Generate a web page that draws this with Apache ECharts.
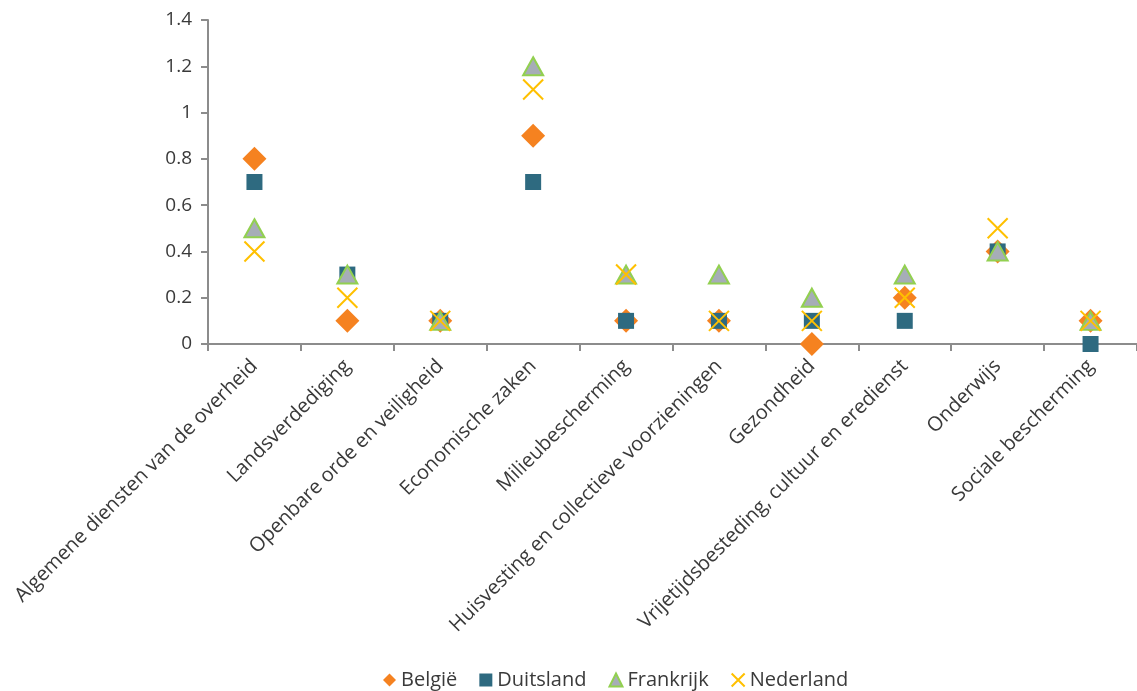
<!DOCTYPE html>
<html><head><meta charset="utf-8">
<script src="https://cdn.jsdelivr.net/npm/echarts@6/dist/echarts.min.js"></script>
<style>html,body{margin:0;padding:0;background:#fff}#c{width:1137px;height:691px}</style>
</head><body><div id="c"></div>
<script>
const categories = ['Algemene diensten van de overheid','Landsverdediging','Openbare orde en veiligheid','Economische zaken','Milieubescherming','Huisvesting en collectieve voorzieningen','Gezondheid','Vrijetijdsbesteding, cultuur en eredienst','Onderwijs','Sociale bescherming'];
const belgie     = [0.8, 0.1, 0.1, 0.9, 0.1, 0.1, 0.0, 0.2, 0.4, 0.1];
const duitsland  = [0.7, 0.3, 0.1, 0.7, 0.1, 0.1, 0.1, 0.1, 0.4, 0.0];
const frankrijk  = [0.5, 0.3, 0.1, 1.2, 0.3, 0.3, 0.2, 0.3, 0.4, 0.1];
const nederland  = [0.4, 0.2, 0.1, 1.1, 0.3, 0.1, 0.1, 0.2, 0.5, 0.1];
const yTicks = [0, 0.2, 0.4, 0.6, 0.8, 1, 1.2, 1.4];

const font = 'Open Sans';
const txt = '#3a3a3a';
const chart = echarts.init(document.getElementById('c'), null, {renderer:'canvas'});
chart.setOption({
  animation:false,
  textStyle:{fontFamily:font},
  grid:{left:208, top:20, width:936, height:324, containLabel:false},
  legend:{
    top:665, left:378, itemGap:22, itemWidth:13, itemHeight:13,
    textStyle:{fontFamily:font, fontSize:20, color:txt, padding:[0,0,0,0]},
    data:['België','Duitsland','Frankrijk','Nederland']
  },
  xAxis:{
    type:'category', data:categories, boundaryGap:true,
    axisLine:{lineStyle:{color:'#8c8c8c', width:2}},
    axisTick:{show:true, length:7, alignWithLabel:false, lineStyle:{color:'#8c8c8c', width:2}},
    axisLabel:{rotate:45, interval:0, fontSize:20, color:txt, fontFamily:font, margin:19}
  },
  yAxis:{
    type:'value', min:0, max:1.4, interval:0.2,
    splitLine:{show:false},
    axisLine:{show:true, lineStyle:{color:'#8c8c8c', width:2}},
    axisTick:{show:true, length:7, lineStyle:{color:'#8c8c8c', width:2}},
    axisLabel:{fontSize:19, color:txt, fontFamily:font, margin:16,
      formatter:v => { const t = yTicks.find(x => Math.abs(x - v) < 1e-9); return t === undefined ? '' : String(t); }}
  },
  series:[
    {name:'België', type:'scatter', data:belgie, symbol:'diamond', symbolSize:[24,24],
     itemStyle:{color:'#F58220', opacity:1}},
    {name:'Duitsland', type:'scatter', data:duitsland, symbol:'rect', symbolSize:16,
     itemStyle:{color:'#2E6A80', opacity:1}},
    {name:'Frankrijk', type:'scatter', data:frankrijk, symbol:'triangle', symbolSize:[20,18],
     itemStyle:{color:'#A6ADB7', borderColor:'#92D050', borderWidth:2, opacity:1}},
    {name:'Nederland', type:'scatter', data:nederland, symbol:'path://M0,0L10,10M10,0L0,10', symbolSize:20,
     itemStyle:{color:'rgba(0,0,0,0)', borderColor:'#FFC000', borderWidth:2, opacity:1}}
  ]
});
</script></body></html>
